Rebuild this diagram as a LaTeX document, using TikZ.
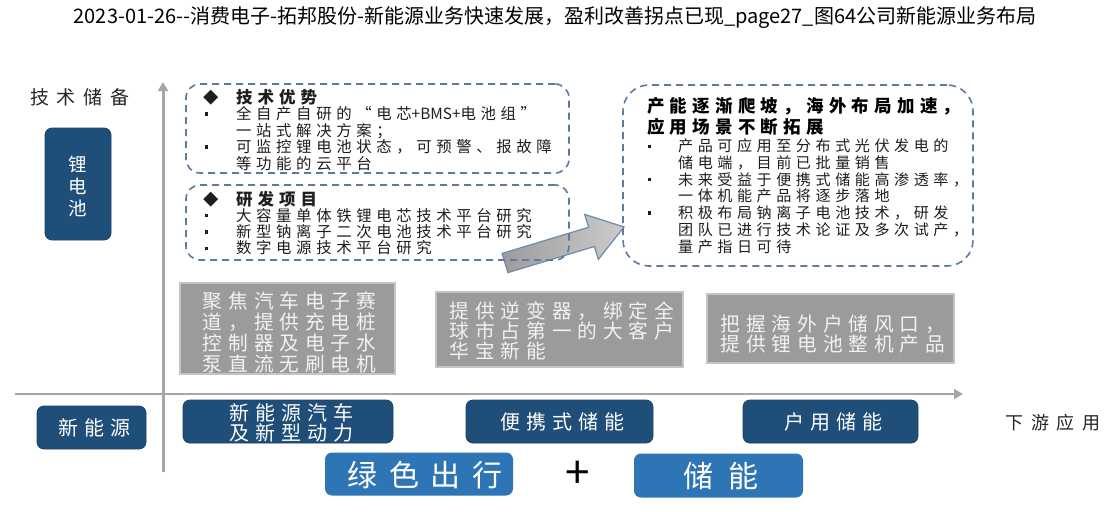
\documentclass[tikz,border=0pt]{standalone}
\usepackage{fontspec}
\setmainfont{Noto Sans CJK SC}
\usetikzlibrary{arrows.meta}
\definecolor{navy}{HTML}{1F4E79}
\definecolor{midblue}{HTML}{2E75B6}
\definecolor{dashblue}{HTML}{5B7BA0}
\definecolor{axisgray}{HTML}{A6A6A6}
\definecolor{boxgray}{HTML}{9B9B9B}
\definecolor{boxgrayline}{HTML}{C4C4C4}
\definecolor{lighttext}{HTML}{F2F2F2}
\definecolor{bodytext}{HTML}{1E1E1E}
\definecolor{arrowline}{HTML}{6F8BAA}
\newcommand\fs[2]{\fontsize{#1}{#2}\selectfont}
\newcommand\ls[1]{\addfontfeature{LetterSpace=#1}}
\newlength\ind
\newcommand\vlines[1]{\vtop{\lineskiplimit=-30pt\lineskip=0pt\relax #1}}
\newcommand\bul{\rule[4pt]{3.2pt}{3.2pt}}
\newcommand\bl[1]{\hbox{\makebox[\ind][l]{\hspace*{1.5pt}\bul}#1}}
\newcommand\cl[1]{\hbox{\hspace*{\ind}#1}}
\newcommand\hd[1]{\hbox{\makebox[\ind][l]{◆}\bfseries #1}}
\newcommand\nols[1]{{\addfontfeature{LetterSpace=0}#1}}
\tikzset{
  dbox/.style={draw=dashblue, line width=1.6pt, dash pattern=on 7pt off 5pt, rounded corners=14pt},
  navybox/.style={fill=navy, draw=navy!85!black, line width=0.8pt, rounded corners=7pt, text=white, inner sep=0pt},
  bluebox/.style={fill=midblue, rounded corners=7pt, text=white, inner sep=0pt},
  graybox/.style={fill=boxgray, draw=boxgrayline, line width=1.5pt, inner sep=0pt},
  axisline/.style={draw=axisgray, line width=3pt, -{Triangle[width=10pt,length=9pt]}},
  bodytxt/.style={anchor=base west, inner sep=0pt, text=bodytext},
  navytxt/.style={font=\fs{20}{20}\ls{30}, text=white, align=center},
  graytxt/.style={font=\fs{19.7}{21}\ls{30}, text=lighttext, align=left, inner sep=0pt},
}
\begin{document}
\begin{tikzpicture}[x=1pt,y=-1pt]
\useasboundingbox (0,0) rectangle (1110,511);
\fill[white] (0,0) rectangle (1110,511);

% title
\node[font=\fs{20}{22}] (title) at (555,18) {2023\mbox{-}01\mbox{-}26\mbox{-}\mbox{-}消费电子\mbox{-}拓邦股份\mbox{-}新能源业务快速发展，盈利改善拐点已现\_page27\_图64公司新能源业务布局};

% axes
\coordinate (vbot) at (163,472);
\coordinate (vtop) at (163,82);
\coordinate (hleft) at (15,394);
\coordinate (hright) at (963,394);
\draw[axisline] (vbot) -- (vtop);
\draw[axisline, line width=2.5pt] (hleft) -- (hright);

% left labels
\node[font=\fs{19}{22}\ls{42}, text=black!85] (jscb) at (80,97) {技术储备};
\node[navybox, minimum width=66, minimum height=112] (li) at (78,184) {};
\node[font=\fs{18.5}{22}, text=white, align=center] (litxt) at (78,186) {锂\\电\\池};

% big arrow (drawn under the dashed boxes)
\coordinate (atail1) at (502.1,253.4);
\coordinate (atail2) at (507.9,272.6);
\coordinate (atip) at (624,227);
\filldraw[left color=gray!78, right color=gray!40, draw=arrowline, line width=1.2pt, line join=miter]
  (atail1) -- (588.6,227.3) -- (584.7,214.4) -- (atip) -- (598.3,259.4) -- (594.4,246.5) -- (atail2) -- cycle;

% dashed boxes
\node[dbox, minimum width=383, minimum height=89] (adv) at (377.5,128.5) {};
\node[dbox, minimum width=383, minimum height=75] (rd) at (377.5,222.5) {};
\node[dbox, rounded corners=26pt, minimum width=350, minimum height=181] (cap) at (798,175.5) {};

% dashed box texts
\node[bodytxt, font=\fs{15.4}{16.5}\ls{30}] (advt) at (203,103) {\setlength\ind{33pt}\vlines{%
  \hd{\fs{16.5}{16.5}技术优势}
  \bl{全自产自研的“电芯\nols{+BMS+}电池组”}
  \cl{一站式解决方案；}
  \bl{可监控锂电池状态，可预警、报故障}
  \cl{等功能的云平台}}};
\node[bodytxt, font=\fs{15.4}{16.3}\ls{30}] (rdt) at (203,205) {\setlength\ind{33pt}\vlines{%
  \hd{\fs{16.5}{16.3}研发项目}
  \bl{大容量单体铁锂电芯技术平台研究}
  \bl{新型钠离子二次电池技术平台研究}
  \bl{数字电源技术平台研究}}};
\node[bodytxt, font=\fs{17.5}{21}\ls{30}\bfseries, text=black] (capt) at (647,112.8) {\vlines{%
  \hbox{产能逐渐爬坡，海外布局加速，}
  \hbox{应用场景不断拓展}}};
\node[bodytxt, font=\fs{15.1}{16.7}\ls{30}] (capb) at (646,151.8) {\setlength\ind{32pt}\vlines{%
  \bl{产品可应用至分布式光伏发电的}
  \cl{储电端，目前已批量销售}
  \bl{未来受益于便携式储能高渗透率，}
  \cl{一体机能产品将逐步落地}
  \bl{积极布局钠离子电池技术，研发}
  \cl{团队已进行技术论证及多次试产，}
  \cl{量产指日可待}}};

% gray boxes
\node[graybox, minimum width=215, minimum height=91] (ga) at (287.5,328.5) {};
\node[graytxt] (gat) at (289.5,332) {聚焦汽车电子赛\\道，提供充电桩\\控制器及电子水\\泵直流无刷电机};
\node[graybox, minimum width=247, minimum height=75] (gb) at (559.5,329.5) {};
\node[graytxt, font=\fs{19.7}{20}\ls{30}] (gbt) at (562,330.5) {提供逆变器，绑定全\\球市占第一的大客户\\华宝新能};
\node[graybox, minimum width=247, minimum height=69] (gc) at (830.5,328.5) {};
\node[graytxt, font=\fs{19.7}{19.5}\ls{30}] (gct) at (833,334) {把握海外户储风口，\\提供锂电池整机产品};

% bottom row
\node[navybox, minimum width=109, minimum height=43] (xny) at (91.5,427.5) {};
\node[navytxt] (xnyt) at (94,428) {新能源};
\node[navybox, minimum width=210, minimum height=43] (car) at (288,421.5) {};
\node[navytxt] (cart) at (291,423) {新能源汽车\\及新型动力};
\node[navybox, minimum width=187, minimum height=43] (port) at (559.5,421.5) {};
\node[navytxt] (portt) at (562,422) {便携式储能};
\node[navybox, minimum width=175, minimum height=43] (home) at (830.5,421.5) {};
\node[navytxt] (homet) at (833,422) {户用储能};
\node[font=\fs{18}{20}\ls{43}, text=black!85] (xyyy) at (1053,423) {下游应用};

\node[bluebox, minimum width=188, minimum height=43] (green) at (419,474) {};
\node[font=\fs{30}{30}\ls{39}, text=white] (greent) at (425,475) {绿色出行};
\node[font=\fs{44}{44}, text=black] (plus) at (578,475) {+};
\node[bluebox, minimum width=169, minimum height=44] (store) at (718.5,475.5) {};
\node[font=\fs{30}{30}\ls{53}, text=white] (storet) at (721,476) {储能};
\end{tikzpicture}
\end{document}
